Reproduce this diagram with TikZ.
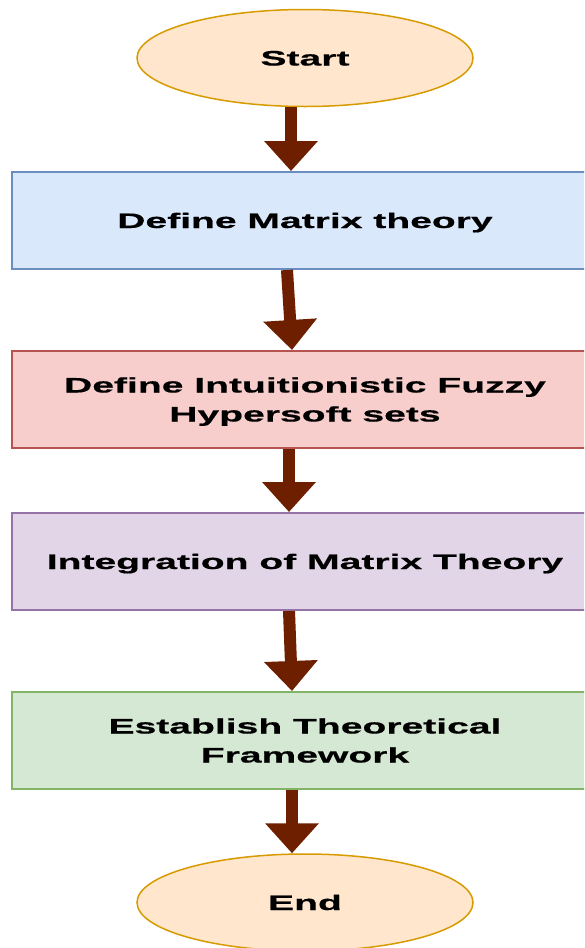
\documentclass[tikz,border=0pt]{standalone}
\usepackage{fontspec}
\newfontfamily\boxfont[FakeStretch=1.86, BoldFeatures={FakeBold=0.6}]{Liberation Sans}
\usetikzlibrary{shapes.geometric,arrows.meta}
\definecolor{ovalfill}{HTML}{FFE6CC}
\definecolor{ovaldraw}{HTML}{D79B00}
\definecolor{bluefill}{HTML}{DAE8FC}
\definecolor{bluedraw}{HTML}{6C8EBF}
\definecolor{redfill}{HTML}{F8CECC}
\definecolor{reddraw}{HTML}{B85450}
\definecolor{purplefill}{HTML}{E1D5E7}
\definecolor{purpledraw}{HTML}{9673A6}
\definecolor{greenfill}{HTML}{D5E8D4}
\definecolor{greendraw}{HTML}{82B366}
\definecolor{arrowbrown}{HTML}{6D1F00}
\begin{document}
\begin{tikzpicture}[x=1pt,y=-1pt,
  txt/.style={font=\boxfont\bfseries\fontsize{21}{29}\selectfont, text=black, align=center,
    inner sep=0pt, text height=15pt, text depth=0pt},
  twoline/.style={text height=44pt, text depth=0pt},
  startend/.style={txt, ellipse, fill=ovalfill, draw=ovaldraw, line width=1.5pt,
    minimum width=336pt, minimum height=97pt},
  procbox/.style={txt, rectangle, line width=2pt, minimum width=586pt, minimum height=97pt},
  flow/.style={draw=arrowbrown, line width=12pt,
    -{Triangle[width=52pt,length=30pt,fill=arrowbrown]}}
]
\useasboundingbox (0,0) rectangle (584,948);
\clip (0,0) rectangle (584,948);
\fill[white] (0,0) rectangle (584,948);

\node[startend] (start) at (305,58) {Start};
\node[procbox, fill=bluefill, draw=bluedraw] (b1) at (305,220.5) {Define Matrix theory};
\node[procbox, twoline, fill=redfill, draw=reddraw] (b2) at (305,399.5) {Define Intuitionistic Fuzzy\\Hypersoft sets};
\node[procbox, fill=purplefill, draw=purpledraw] (b3) at (305,561.5) {Integration of Matrix Theory};
\node[procbox, twoline, fill=greenfill, draw=greendraw] (b4) at (305,740.5) {Establish Theoretical\\Framework};
\node[startend] (end) at (305,902.5) {End};

\draw[flow] ([xshift=-14pt]start.south) -- ([xshift=-14pt]b1.north);
\draw[flow] ([xshift=-18pt]b1.south) -- ([xshift=-13pt]b2.north);
\draw[flow] ([xshift=-16pt]b2.south) -- ([xshift=-16pt]b3.north);
\draw[flow] ([xshift=-16pt]b3.south) -- ([xshift=-13pt]b4.north);
\draw[flow] ([xshift=-13pt]b4.south) -- ([xshift=-13pt]end.north);
\end{tikzpicture}
\end{document}
